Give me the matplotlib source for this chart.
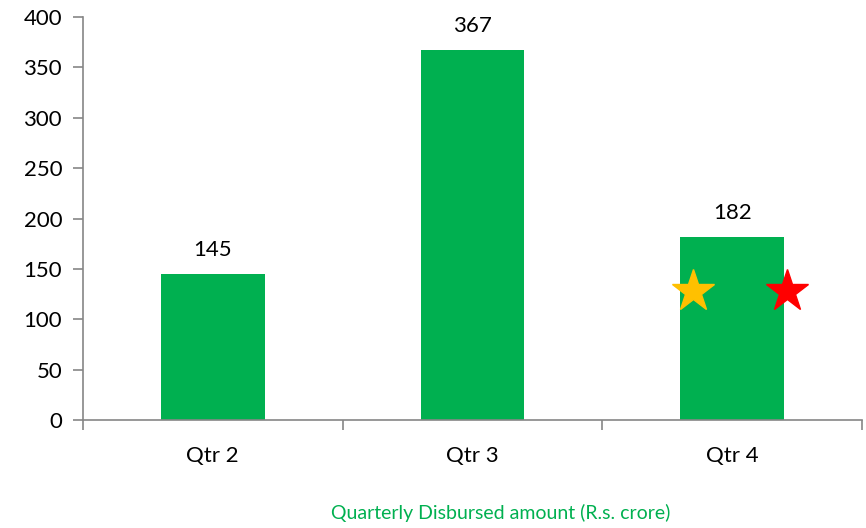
import matplotlib.pyplot as plt

quarters = ["Qtr 2", "Qtr 3", "Qtr 4"]
amounts = [145, 367, 182]
star_x = [1.85, 2.21]
star_y = [128, 128]
star_colors = ["#FFC000", "#FF0000"]

plt.rcParams["font.family"] = ["Lato", "DejaVu Sans"]

fig = plt.figure(figsize=(8.66, 5.28), dpi=100)
ax = fig.add_axes([0.0958, 0.2045, 0.8996, 0.7633])

x = range(len(quarters))
ax.bar(x, amounts, width=0.4, color="#00B050", zorder=2)
for xi, v in zip(x, amounts):
    ax.annotate(str(v), (xi, v), xytext=(0, 10), textcoords="offset points",
                ha="center", va="bottom", fontsize=16)

for sx, sy, c in zip(star_x, star_y, star_colors):
    ax.plot(sx, sy, marker="*", ms=32, color=c, mec=c, linestyle="none", zorder=3)

ax.set_xlim(-0.5, 2.5)
ax.set_ylim(0, 400)
ax.set_yticks(range(0, 401, 50))
ax.set_xticks(list(x))
ax.set_xticklabels(quarters, fontsize=16)
ax.set_xticks([-0.5, 0.5, 1.5, 2.5], minor=True)
ax.tick_params(axis="x", which="major", length=0, pad=19)
ax.tick_params(axis="x", which="minor", length=7, color="#868686", width=1.2)
ax.tick_params(axis="y", length=7, color="#868686", width=1.2, labelsize=16, pad=8)

for side in ["top", "right"]:
    ax.spines[side].set_visible(False)
for side in ["left", "bottom"]:
    ax.spines[side].set_color("#868686")
    ax.spines[side].set_linewidth(1.2)

fig.text(0.578, 0.012, "Quarterly Disbursed amount (R.s. crore)", color="#00B050",
         fontsize=14, ha="center", va="bottom")

fig.savefig("out.png", dpi=100)
